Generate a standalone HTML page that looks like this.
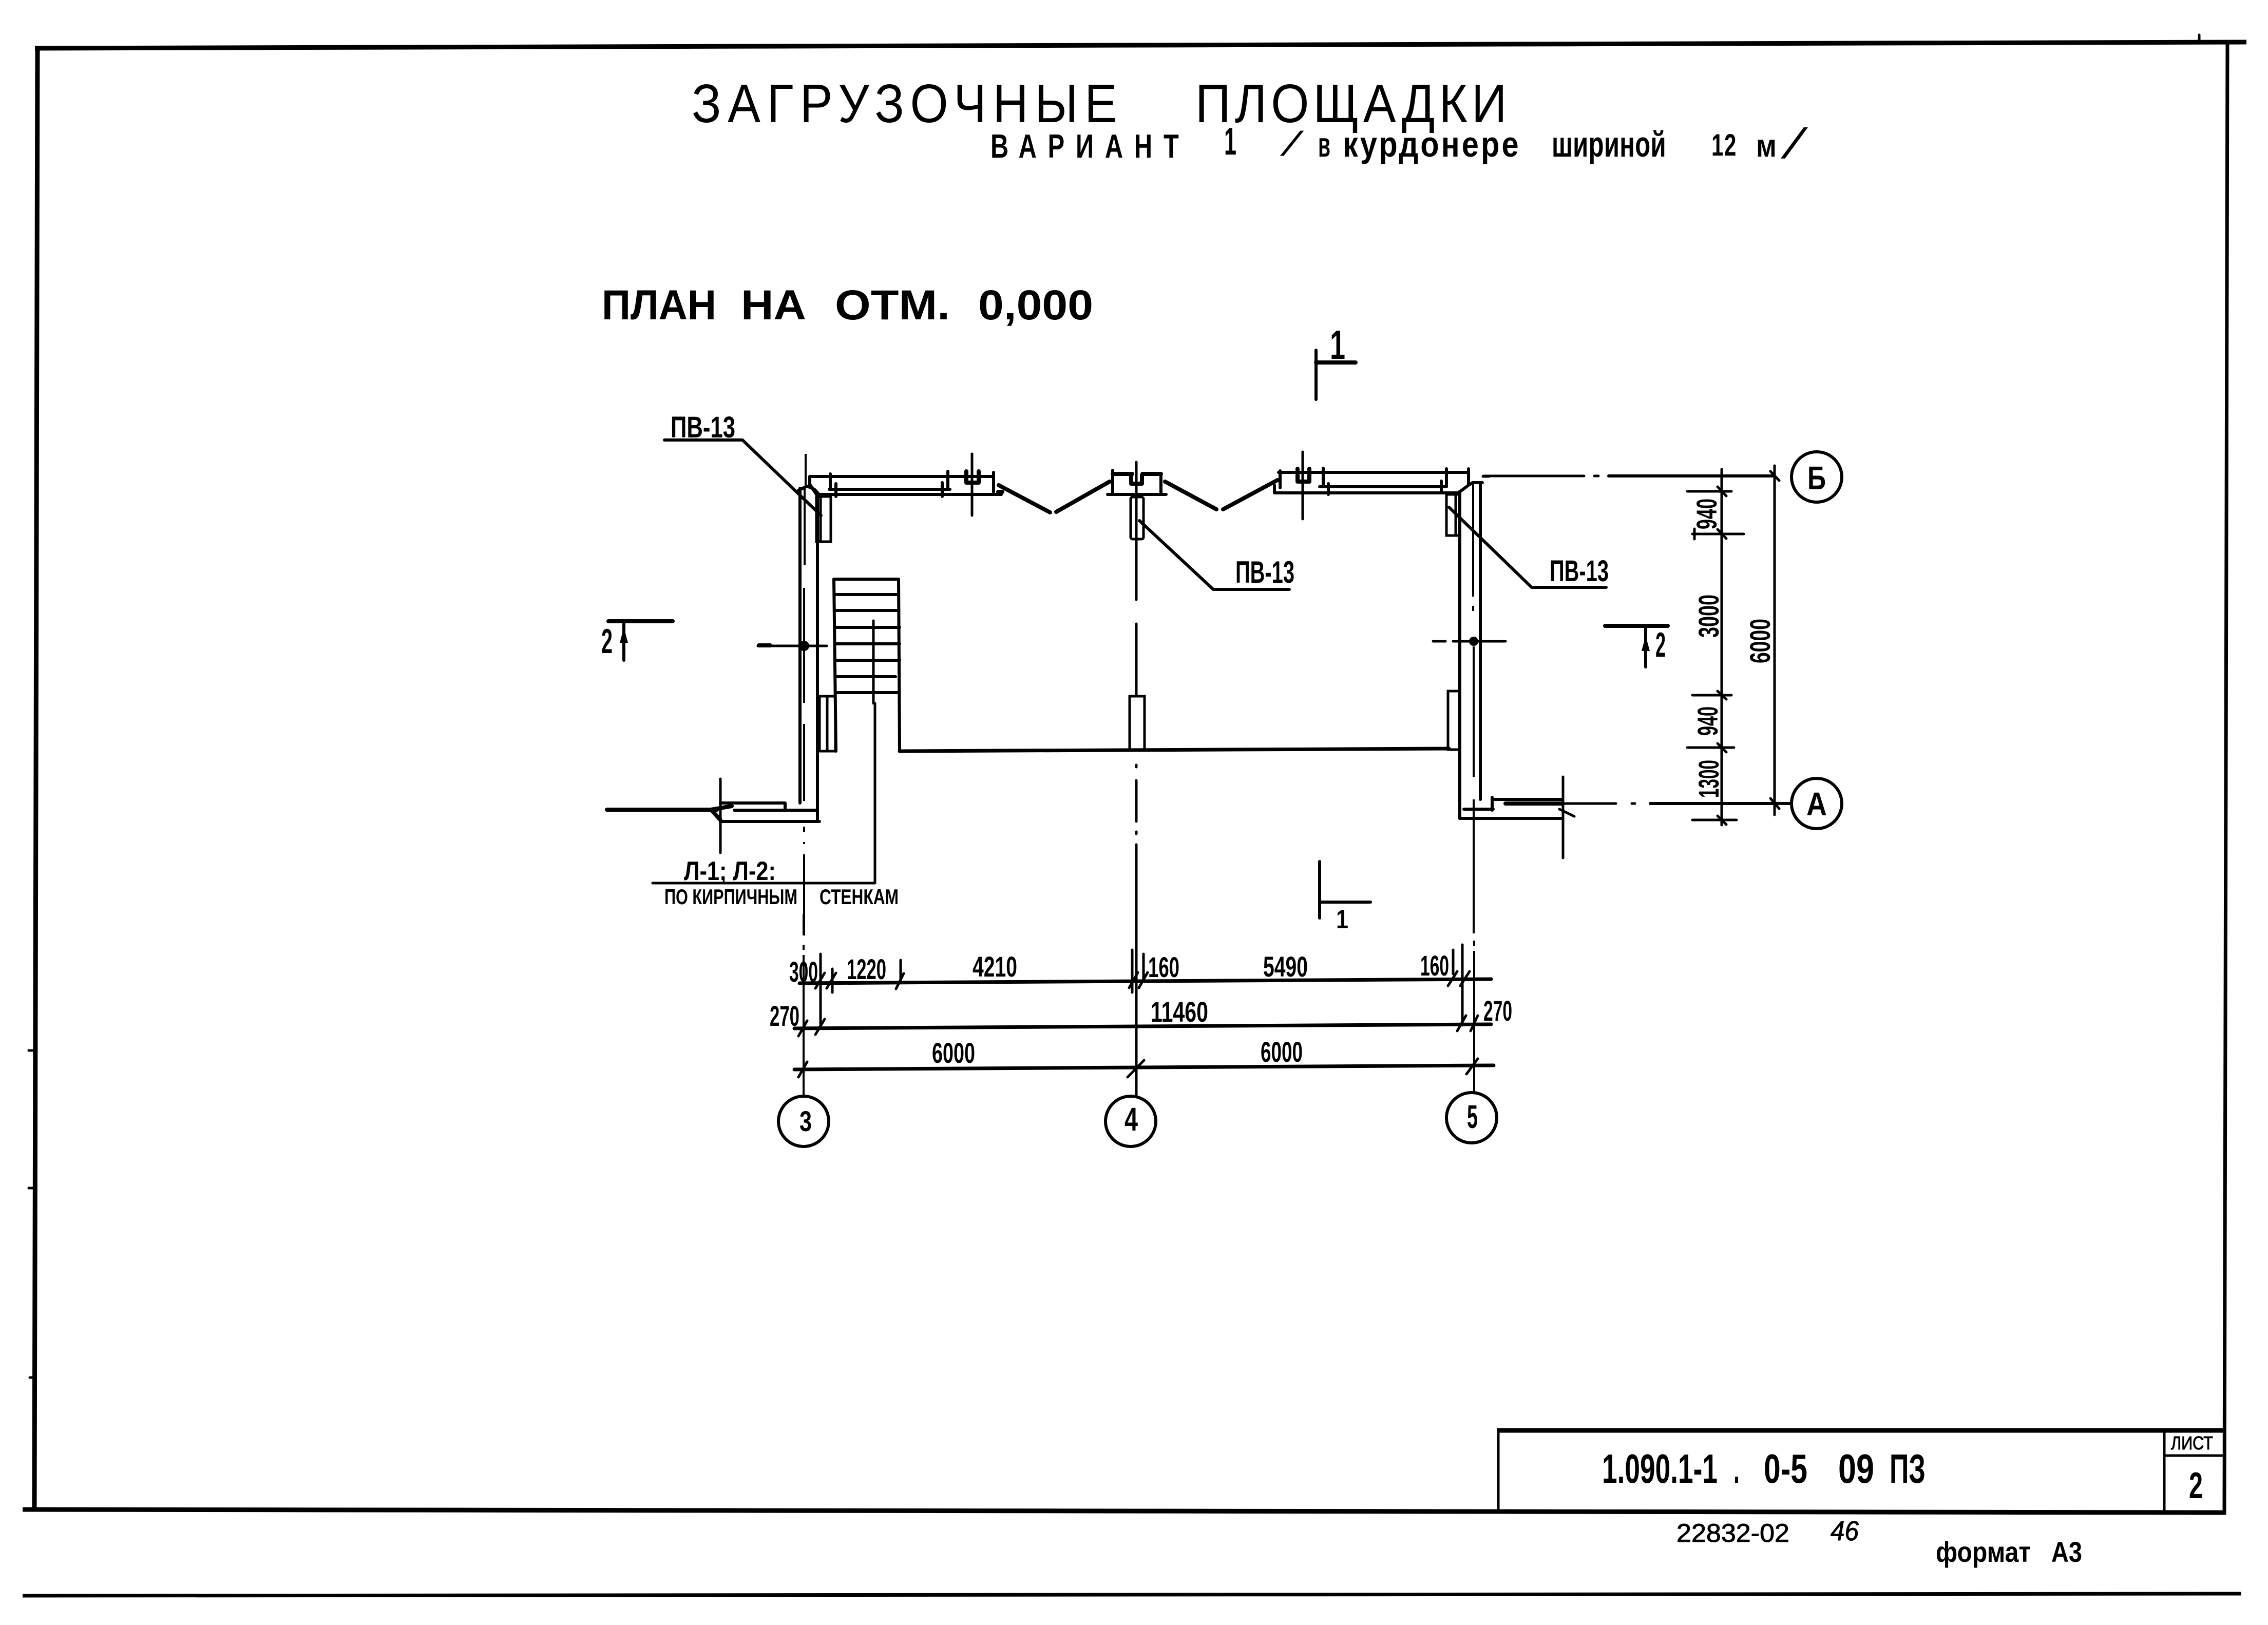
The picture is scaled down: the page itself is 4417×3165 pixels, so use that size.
<!DOCTYPE html>
<html lang="ru">
<head>
<meta charset="utf-8">
<title>Загрузочные площадки</title>
<style>
html,body{margin:0;padding:0;background:#fff}
svg{display:block}
.a{fill:none;stroke:#000;stroke-width:5;stroke-linecap:round;stroke-linejoin:round}
.w{fill:none;stroke:#000;stroke-width:6;stroke-linecap:round;stroke-linejoin:round}
.b{fill:none;stroke:#000;stroke-width:8;stroke-linecap:round;stroke-linejoin:round}
.f{fill:none;stroke:#000;stroke-width:9;stroke-linecap:butt}
.c{fill:none;stroke:#000;stroke-width:5}
.d{fill:none;stroke:#000;stroke-width:4}
text{font-family:"Liberation Sans","DejaVu Sans",sans-serif;fill:#000;font-weight:700}
.n{font-weight:400}
</style>
</head>
<body>
<svg xmlns="http://www.w3.org/2000/svg" width="4417" height="3165" viewBox="0 0 4417 3165">
<rect width="4417" height="3165" fill="#fff"/>

<!-- frame -->
<path class="f" d="M68 94L4375 82"/>
<path class="f" d="M73 90L67 2944"/>
<path class="f" d="M4338 82L4332 2950" style="stroke-width:7"/>
<path class="f" d="M44 2940L4334 2946"/>
<path class="f" d="M44 3108L4365 3104" style="stroke-width:7"/>
<path class="a" d="M4283 68V82M56 2046H68M56 2314H68M58 2683H68"/>
<path class="f" d="M2915 2786H4332"/>
<path class="c" d="M2918 2786V2946M4215 2786V2946"/>
<path class="a" d="M4217 2835H4332"/>

<!-- titles -->
<text class="n" font-size="106" transform="translate(1347 238) scale(.9 1)" textLength="921" lengthAdjust="spacing">ЗАГРУЗОЧНЫЕ</text>
<text class="n" font-size="106" transform="translate(2328 238) scale(.9 1)" textLength="674" lengthAdjust="spacing">ПЛОЩАДКИ</text>

<text font-size="65" transform="translate(1929 307) scale(.75 1)" textLength="489" lengthAdjust="spacing">ВАРИАНТ</text>
<text font-size="75" transform="translate(2384 301) scale(.6 1)" textLength="40" lengthAdjust="spacingAndGlyphs">1</text>
<text class="n" font-size="64" transform="translate(2495 302) skewX(-28)" stroke="#000" stroke-width="2">/</text>
<text font-size="68" transform="translate(2567 305) scale(.6 1)" textLength="40" lengthAdjust="spacingAndGlyphs">в</text>
<text font-size="70" transform="translate(2615 305) scale(.85 1)" textLength="403" lengthAdjust="spacing">курдонере</text>
<text font-size="70" transform="translate(3022 305) scale(.7 1)" textLength="318" lengthAdjust="spacing">шириной</text>
<text font-size="60" transform="translate(3333 303) scale(.7 1)" textLength="69" lengthAdjust="spacing">12</text>
<text font-size="62" transform="translate(3420 305) scale(.7 1)" textLength="57" lengthAdjust="spacingAndGlyphs">м</text>
<text class="n" font-size="80" transform="translate(3470 307) skewX(-25)" stroke="#000" stroke-width="2">/</text>

<g font-size="82">
<text x="1172" y="622" textLength="223" lengthAdjust="spacingAndGlyphs">ПЛАН</text>
<text x="1443" y="622" textLength="127" lengthAdjust="spacingAndGlyphs">НА</text>
<text x="1626" y="622" textLength="224" lengthAdjust="spacingAndGlyphs">ОТМ.</text>
<text x="1905" y="622" textLength="224" lengthAdjust="spacingAndGlyphs">0,000</text>
</g>

<!-- section marks -->
<path class="w" d="M2563 682V778"/>
<path class="b" d="M2563 706H2640"/>
<text x="2590" y="699" font-size="80" textLength="30" lengthAdjust="spacingAndGlyphs">1</text>
<path class="w" d="M2570 1678V1788"/>
<path class="b" style="stroke-width:6" d="M2573 1757H2669"/>
<text x="2602" y="1808" font-size="52" textLength="24" lengthAdjust="spacingAndGlyphs">1</text>
<path class="b" d="M1185 1210H1310"/>
<path class="w" d="M1215 1215V1286"/>
<path d="M1207 1252L1215 1222L1223 1252Z"/>
<text x="1171" y="1272" font-size="68" textLength="22" lengthAdjust="spacingAndGlyphs">2</text>
<path class="b" d="M3126 1219H3248"/>
<path class="w" d="M3205 1222V1299"/>
<path d="M3197 1268L3205 1238L3213 1268Z"/>
<text x="3224" y="1279" font-size="68" textLength="20" lengthAdjust="spacingAndGlyphs">2</text>

<!-- axes -->
<path class="d" d="M1569 884V950M1567 950V1101M1566 1145V1369M1566 1410V1560M1566 1610V1620M1566 1640V1644M1566 1664V1822"/>
<path class="d" d="M1565 1780V1822M1565 1840V1850M1565 1860V2135"/>
<path class="a" d="M2213 900V1168M2213 1215V1356M2213 1490V1494M2213 1520V1600M2213 1620V1624M2213 1645V2135"/>
<path class="d" d="M2869 941V1162M2869 1180V1190M2870 1259V1513M2870 1557V1818M2871 1832V1842M2871 1852V2128"/>
<path class="a" d="M2888 928H2900M2889 927H3085M3105 927H3113"/>
<path class="w" d="M3133 927H3453"/>
<path class="a" d="M3042 1565H3147M3178 1565H3184"/>
<path class="w" d="M3214 1565H3487"/>
<path class="a" d="M1476 1258H1610M2791 1249H2815M2830 1249H2932"/>
<path class="b" d="M1478 1257H1500"/>
<circle cx="1566" cy="1258" r="10"/>
<circle cx="2870" cy="1249" r="9"/>

<!-- left wall -->
<path class="w" d="M1558 951V1564M1592 965V1600"/>
<path class="w" d="M1555 955L1572 947L1586 953L1597 965"/>
<rect class="c" x="1590" y="967" width="28" height="88"/>
<path class="a" d="M1598 967V1052"/>
<rect class="c" x="1596" y="1356" width="31" height="107"/>
<path class="a" d="M1611 1356V1463"/>

<!-- top wall left -->
<path class="w" d="M1577 928H1935M1577 928V943L1590 963H1950M1617 923V953M1615 953H1850M1628 942V967M1835 940V967M1846 918V953M1935 920V958"/>
<path class="a" d="M1893 884V1004"/>
<path class="b" d="M1882 918V940H1906V918"/>
<path class="b" d="M1944 958H1952M1945 945L2045 998M2057 997L2161 938"/>

<!-- stair -->
<path class="w" d="M1624 1128H1750M1626 1158H1750M1626 1189H1750M1626 1222H1752M1627 1254H1752M1627 1286H1752M1628 1318H1744M1628 1349H1750"/>
<path class="w" d="M1624 1128L1628 1463M1750 1128L1752 1463"/>
<path class="b" style="stroke-width:7" d="M1752 1463L2822 1458"/>
<path class="a" d="M1701 1209V1370M1704 1370V1720M1271 1720H1704"/>
<text x="1332" y="1714" font-size="52" textLength="179" lengthAdjust="spacingAndGlyphs">Л-1; Л-2:</text>
<text x="1294" y="1761" font-size="42" textLength="259" lengthAdjust="spacingAndGlyphs">ПО КИРПИЧНЫМ</text>
<text x="1596" y="1761" font-size="42" textLength="154" lengthAdjust="spacingAndGlyphs">СТЕНКАМ</text>

<!-- bottom left return -->
<path class="b" d="M1182 1577H1396"/>
<path class="b" d="M1385 1577L1425 1570M1385 1577L1403 1597"/>
<path class="w" d="M1403 1564H1529V1578M1430 1578H1592M1403 1600H1596"/>
<path class="a" d="M1403 1517V1661"/>

<!-- leaders -->
<path class="w" d="M1294 857H1446L1599 1004"/>
<text x="1306" y="852" font-size="58" textLength="126" lengthAdjust="spacingAndGlyphs">ПВ-13</text>
<path class="w" d="M2219 1014L2363 1148H2511"/>
<text x="2406" y="1135" font-size="60" textLength="115" lengthAdjust="spacingAndGlyphs">ПВ-13</text>
<path class="w" d="M2822 988L2983 1144H3128"/>
<text x="3018" y="1132" font-size="58" textLength="115" lengthAdjust="spacingAndGlyphs">ПВ-13</text>

<!-- middle wall post -->
<path class="b" d="M2167 923H2205M2225 923H2261M2203 925V942L2224 942V925"/>
<path class="w" d="M2167 916V963M2157 963H2271M2261 925V960"/>
<rect class="c" x="2202" y="968" width="25" height="82" rx="4"/>
<rect class="c" x="2200" y="1356" width="29" height="104"/>
<path class="b" d="M2269 938L2369 992M2382 992L2488 935"/>

<!-- right top wall -->
<path class="w" d="M2490 920H2860M2493 917V950M2482 960H2840L2860 945L2868 940H2887M2482 945V960M2577 912V947M2570 948H2817M2587 942V963M2817 913V947M2807 937V960M2860 913V943"/>
<path class="a" d="M2537 880V1011"/>
<path class="b" d="M2527 913V938H2550V913"/>

<!-- right wall -->
<path class="w" d="M2843 957V1594M2883 940V1557"/>
<rect class="c" x="2817" y="963" width="26" height="80"/>
<path class="a" d="M2835 963V1043"/>
<rect class="c" x="2820" y="1346" width="23" height="114"/>
<path class="w" d="M2906 1557H3042M2906 1553V1578M2851 1576H2908M2843 1594H3042"/>
<path class="b" d="M2932 1565H3042"/>
<path class="a" d="M3044 1513V1671M3037 1576L3066 1590"/>

<!-- right dimensions -->
<path class="a" d="M3353 914V1607M3456 907V1587"/>
<path class="a" d="M3286 957H3372M3296 1040H3396M3296 1354H3372M3286 1456H3377M3296 1597H3382M3300 1030V1050"/>
<path class="b" style="stroke-width:5" d="M3345 948L3362 966M3345 1031L3362 1049M3345 1346L3362 1362M3345 1448L3362 1465M3345 1589L3362 1606M3448 918L3465 936M3448 1555L3465 1575"/>
<g font-size="56">
<text transform="translate(3343 1031) rotate(-90)" textLength="60" lengthAdjust="spacingAndGlyphs">940</text>
<text transform="translate(3347 1242) rotate(-90)" textLength="84" lengthAdjust="spacingAndGlyphs">3000</text>
<text transform="translate(3345 1433) rotate(-90)" textLength="57" lengthAdjust="spacingAndGlyphs">940</text>
<text transform="translate(3347 1554) rotate(-90)" textLength="74" lengthAdjust="spacingAndGlyphs">1300</text>
<text transform="translate(3447 1292) rotate(-90)" textLength="87" lengthAdjust="spacingAndGlyphs">6000</text>
</g>

<!-- bottom dimensions -->
<path class="b" style="stroke-width:7" d="M1557 1915L2904 1907M1547 2003L2904 1995M1547 2083L2909 2075"/>
<path class="a" d="M1598 1858V2003M1621 1887V1933M1754 1870V1913M2205 1850V1933M2227 1858V1907M2830 1850V1897M2848 1840V1997"/>
<path class="a" d="M1588 1925L1606 1895M1610 1925L1628 1895M1745 1926L1760 1896M2199 1924L2216 1894M2218 1924L2235 1894M2820 1920L2838 1892M2844 1920L2862 1892"/>
<path class="a" d="M1555 2018L1572 1988M1588 2015L1606 1985M2838 2008L2855 1978M2864 2008L2878 1978"/>
<path class="a" d="M1555 2098L1572 2068M2196 2098L2228 2065M2856 2092L2878 2062"/>
<g font-size="56">
<text x="1537" y="1912" textLength="56" lengthAdjust="spacingAndGlyphs">300</text>
<text x="1649" y="1907" textLength="77" lengthAdjust="spacingAndGlyphs">1220</text>
<text x="1894" y="1902" textLength="87" lengthAdjust="spacingAndGlyphs">4210</text>
<text x="2236" y="1903" textLength="61" lengthAdjust="spacingAndGlyphs">160</text>
<text x="2460" y="1902" textLength="87" lengthAdjust="spacingAndGlyphs">5490</text>
<text x="2766" y="1900" textLength="56" lengthAdjust="spacingAndGlyphs">160</text>
<text x="1499" y="1998" textLength="58" lengthAdjust="spacingAndGlyphs">270</text>
<text x="2241" y="1990" textLength="112" lengthAdjust="spacingAndGlyphs">11460</text>
<text x="2889" y="1988" textLength="56" lengthAdjust="spacingAndGlyphs">270</text>
<text x="1815" y="2070" textLength="84" lengthAdjust="spacingAndGlyphs">6000</text>
<text x="2455" y="2068" textLength="82" lengthAdjust="spacingAndGlyphs">6000</text>
</g>

<!-- axis bubbles -->
<g style="fill:none;stroke:#000;stroke-width:6">
<circle cx="1565" cy="2184" r="49"/>
<circle cx="2202" cy="2184" r="49"/>
<circle cx="2866" cy="2177" r="49"/>
<circle cx="3538" cy="929" r="49"/>
<circle cx="3538" cy="1565" r="49"/>
</g>
<text x="1557" y="2203" font-size="56" textLength="24" lengthAdjust="spacingAndGlyphs">3</text>
<text x="2190" y="2202" font-size="64" textLength="26" lengthAdjust="spacingAndGlyphs">4</text>
<text x="2857" y="2197" font-size="64" textLength="21" lengthAdjust="spacingAndGlyphs">5</text>
<text x="3520" y="953" font-size="64" textLength="36" lengthAdjust="spacingAndGlyphs">Б</text>
<text x="3518" y="1588" font-size="64" textLength="40" lengthAdjust="spacingAndGlyphs">А</text>

<!-- title block text -->
<g font-size="80">
<text x="3120" y="2888" textLength="225" lengthAdjust="spacingAndGlyphs">1.090.1-1</text>
<text x="3376" y="2888" textLength="12" lengthAdjust="spacingAndGlyphs">.</text>
<text x="3435" y="2888" textLength="85" lengthAdjust="spacingAndGlyphs">0-5</text>
<text x="3580" y="2888" textLength="70" lengthAdjust="spacingAndGlyphs">09</text>
<text x="3680" y="2888" textLength="70" lengthAdjust="spacingAndGlyphs">ПЗ</text>
</g>
<text class="n" stroke="#000" stroke-width="1" x="4228" y="2823" font-size="36" textLength="82" lengthAdjust="spacingAndGlyphs">ЛИСТ</text>
<text x="4263" y="2918" font-size="72" textLength="27" lengthAdjust="spacingAndGlyphs">2</text>
<text class="n" stroke="#000" stroke-width="1" x="3265" y="3003" font-size="50" textLength="220" lengthAdjust="spacingAndGlyphs">22832-02</text>
<text class="n" stroke="#000" stroke-width="1" x="3565" y="3000" font-size="54" textLength="55" lengthAdjust="spacingAndGlyphs" font-style="italic">46</text>
<text x="3770" y="3042" font-size="56" textLength="185" lengthAdjust="spacingAndGlyphs">формат</text>
<text x="3995" y="3042" font-size="56" textLength="60" lengthAdjust="spacingAndGlyphs">А3</text>
</svg>
</body>
</html>
